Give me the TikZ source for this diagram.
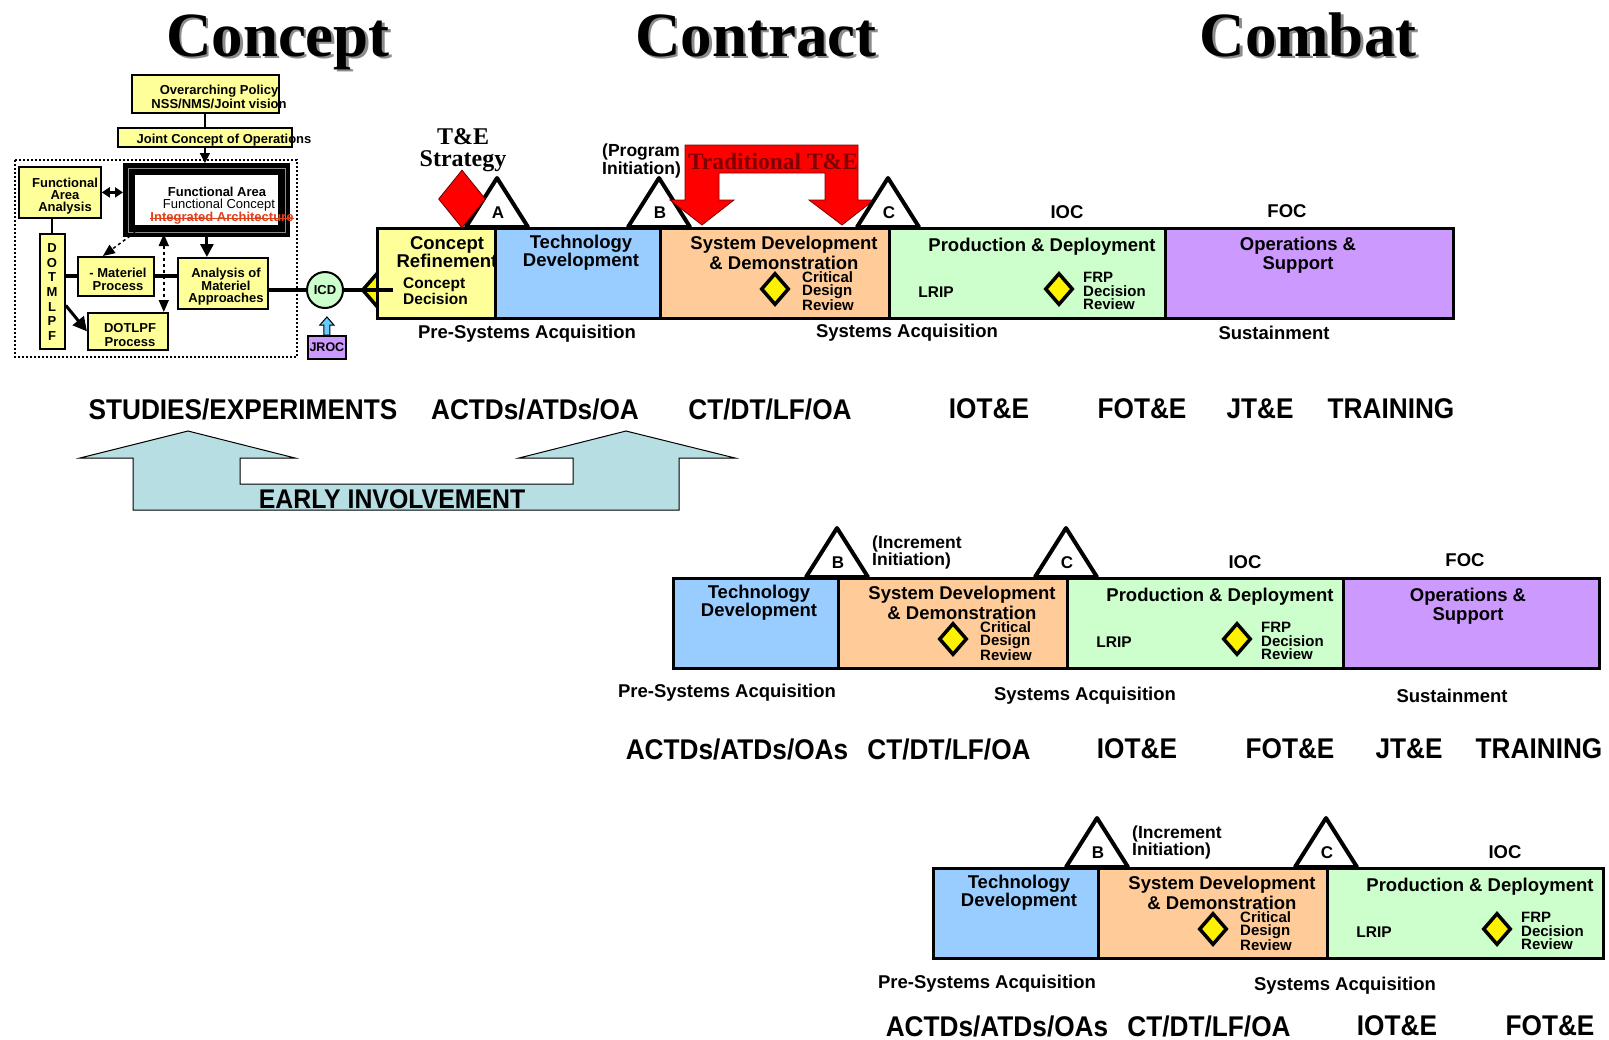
\documentclass[tikz,border=0pt]{standalone}
\usepackage{fontspec}
\setmainfont{Liberation Sans}
\newfontfamily\tnr{Liberation Serif}
\newfontfamily\cond[FakeStretch=0.92]{Liberation Sans}
\usetikzlibrary{arrows.meta,shapes.geometric,calc}
\definecolor{cyel}{HTML}{FFFF99}
\definecolor{cblue}{HTML}{99CCFF}
\definecolor{corange}{HTML}{FFCC99}
\definecolor{cgreen}{HTML}{CCFFCC}
\definecolor{cpurple}{HTML}{CC99FF}
\definecolor{cteal}{HTML}{B7DEE2}
\definecolor{tedark}{HTML}{800000}
\definecolor{iaorange}{HTML}{E0401A}
\definecolor{jrocblue}{HTML}{66CCFF}
\newcommand\fs[2]{\fontsize{#1}{#2}\selectfont}
\tikzset{
  phase/.style={draw, line width=2.5pt, minimum height=90pt, inner sep=0, anchor=north west},
  ptitle/.style={font=\bfseries\fs{18.5}{19.5}, align=center, inner sep=0},
  small/.style={font=\bfseries\fs{15}{13.3}, align=left, inner sep=0, anchor=west},
  lbl/.style={font=\bfseries\fs{18.5}{19}, inner sep=0},
  ms/.style={diamond, draw, line width=3.5pt, fill=yellow, minimum width=28pt, minimum height=32pt, inner sep=0},
  tri/.style={draw, line width=4pt, fill=white, line join=round},
  trilab/.style={font=\bfseries\fs{17}{17}, inner sep=0},
  rowlab/.style={font=\cond\bfseries\fs{28.5}{28}, inner sep=0},
  cbox/.style={draw, line width=1.8pt, fill=cyel, inner sep=0, anchor=north west},
  ctext/.style={font=\bfseries\fs{13}{12.5}, align=center, inner sep=0},
  title/.style={font=\tnr\bfseries\fs{63}{63}, inner sep=0, anchor=base},
  incr/.style={font=\bfseries\fs{17.5}{17}, align=left, inner sep=0, anchor=west},
}
\newcommand\msTri[3]{%
  \draw[tri] ({#2-31},0) -- (#2,-49) -- ({#2+31},0) -- cycle;
  \node[trilab] (#1) at ({#2+1},-14) {#3};}
\newcommand\rowcore{%
  \node[phase, fill=cblue, minimum width=165pt] (td) at (0,0) {};
  \node[phase, fill=corange, minimum width=229pt] (sdd) at (165,0) {};
  \node[phase, fill=cgreen, minimum width=276pt] (pd) at (394,0) {};
  \node[ptitle, font=\bfseries\fs{18.5}{16}] (tdt) at (87,26) {Technology\\Development};
  \node[ptitle] (sddt) at (290,26) {System Development\\\& Demonstration};
  \node[ms] (cdr) at (281,62) {};
  \node[small] (cdrt) at (308,64) {Critical\\Design\\Review};
  \node[ptitle] (pdt) at (548,20) {Production \& Deployment};
  \node[font=\bfseries\fs{15.5}{15.5}, inner sep=0] (lrip) at (442,65) {LRIP};
  \node[ms] (frp) at (565,62) {};
  \node[small] (frpt) at (589,64) {FRP\\Decision\\Review};
  \node[lbl] (ioc) at (573,-15) {IOC};
}
\begin{document}
\begin{tikzpicture}[x=1pt, y=-1pt]
\fill[white] (0,0) rectangle (1609,1039);
\useasboundingbox (0,0) rectangle (1609,1039);

% titles
\node[title, text=black!45] (t1s) at (280.5,58.5) {Concept};
\node[title] (t1) at (278,56) {Concept};
\node[title, text=black!45] (t2s) at (758.5,58.5) {Contract};
\node[title] (t2) at (756,56) {Contract};
\node[title, text=black!45] (t3s) at (1310.5,58.5) {Combat};
\node[title] (t3) at (1308,56) {Combat};

% concept block
\draw[dash pattern=on 2pt off 2pt, line width=2.2pt] (15,160) rectangle (297,357);
\node[cbox, minimum width=147pt, minimum height=38pt] (policy) at (131,74) {};
\node[ctext, font=\bfseries\fs{13}{14}] (policyt) at (219,97) {Overarching Policy\\NSS/NMS/Joint vision};
\node[cbox, minimum width=174pt, minimum height=19pt] (jco) at (117,127) {};
\node[ctext] (jcot) at (224,140) {Joint Concept of Operations};
\node[cbox, minimum width=82pt, minimum height=51pt] (faa) at (18,166) {};
\node[ctext, font=\bfseries\fs{13}{12}] (faat) at (65,196) {Functional\\Area\\Analysis};
\node[fill=black, minimum width=167pt, minimum height=74pt, anchor=north west, inner sep=0] (fa) at (123,163) {};
\draw[black!45, line width=1pt] (128,168) rectangle (285,232);
\fill[white] (135,175) rectangle (278,225);
\node[font=\bfseries\fs{13}{13}, inner sep=0] (fat1) at (217,192) {Functional Area};
\node[font=\fs{13}{13}, inner sep=0] (fat2) at (219,205) {Functional Concept};
\node[font=\bfseries\fs{13}{13}, text=iaorange, inner sep=0] (fat3) at (222,218) {Integrated Architecture};
\draw[iaorange, line width=1pt] (fat3.west) -- (fat3.east);
\node[cbox, minimum width=25pt, minimum height=115pt] (dot) at (39,233) {};
\node[ctext, font=\bfseries\fs{13}{14.7}] (dott) at (52,292) {D\\O\\T\\M\\L\\P\\F};
\node[cbox, minimum width=76pt, minimum height=39pt] (mat) at (77,256) {};
\node[ctext, font=\bfseries\fs{13}{13}] (matt) at (118,279) {- Materiel\\Process};
\node[cbox, minimum width=90pt, minimum height=51pt] (aoma) at (177,257) {};
\node[ctext, font=\bfseries\fs{13}{12.5}] (aomat) at (226,287) {Analysis of\\Materiel\\Approaches};
\node[cbox, minimum width=80pt, minimum height=37pt] (dotlpf) at (87,312) {};
\node[ctext, font=\bfseries\fs{13}{14}] (dotlpft) at (130,335) {DOTLPF\\Process};
\node[circle, draw, line width=2pt, fill=cgreen, minimum size=36pt, inner sep=0, font=\bfseries\fs{13}{13}] (icd) at (325,290) {ICD};
\node[draw, line width=1.8pt, fill=cpurple, minimum width=38pt, minimum height=23pt, inner sep=0, font=\bfseries\fs{12.5}{12.5}, anchor=north west] (jroc) at (307,335) {JROC};

\draw[line width=2pt] (policy.south) -- (jco.south |- policy.south) -- (jco.north);
\draw[line width=1.5pt, -{Triangle[width=10pt,length=10pt]}] (jco.south) -- (jco.south |- fa.north);
\draw[line width=2.5pt, {Triangle[width=10pt,length=8pt]}-{Triangle[width=10pt,length=8pt]}] (faa.east) -- (faa.east -| fa.west);
\draw[line width=2pt] (dot.north |- faa.south) -- (dot.north);
\draw[line width=4pt] (dot.east |- mat.west) -- (mat.west);
\draw[line width=4pt] (mat.east) -- (mat.east -| aoma.west);
\draw[line width=3pt, -{Triangle[width=13pt,length=13pt]}] ($(aoma.north)+(-16,-20)$) -- ($(aoma.north)+(-16,0)$);
\draw[dashed, line width=1.5pt, -{Triangle[width=10pt,length=12pt]}] ($(fa.south west)+(12,-5)$) -- ($(mat.north)+(-13,0)$);
\draw[dashed, line width=1.5pt, {Triangle[width=10pt,length=12pt]}-{Triangle[width=10pt,length=12pt]}] ($(dotlpf.north east)+(-5,-78)$) -- ($(dotlpf.north east)+(-5,0)$);
\draw[line width=3pt, -{Triangle[width=14pt,length=14pt]}] ($(dot.east)+(0,14)$) -- (dotlpf.west);
\draw[line width=4pt] (aoma.east |- icd.west) -- (icd.west);
\draw[fill=jrocblue, line width=1pt, line join=miter] (jroc.north) ++(-3,0) -- ++(0,-10) -- ++(-4,0) -- ++(7,-8) -- ++(7,8) -- ++(-4,0) -- ++(0,10) -- cycle;

% row 1
\begin{scope}[shift={(494,227)}, name prefix=r1-]
  \node[ms] (cd) at (-118,63) {};
  \node[phase, fill=cyel, minimum width=118pt] (cr) at (-118,0) {};
  \rowcore
  \node[phase, fill=cpurple, minimum width=288pt] (os) at (670,0) {};
  \node[ptitle, font=\bfseries\fs{18.5}{15.5}] (crt) at (-47,25.5) {Concept\\Refinement};
  \node[small, font=\bfseries\fs{15.5}{13}] (cdt) at (-91,64) {Concept\\Decision};
  \node[ptitle] (ost) at (804,28) {Operations \&\\Support};
  \node[lbl] (foc) at (793,-16) {FOC};
  \node[lbl] (sus) at (780,106) {Sustainment};
  \node[lbl] (sa) at (413,106) {Systems Acquisition};
  \node[lbl] (psa) at (33,107) {Pre-Systems Acquisition};
  \msTri{ta}{3}{A}
  \node[diamond, fill=red, draw=black!60!red, line width=0.8pt, minimum width=47pt, minimum height=58pt, inner sep=0] (tes) at (-32,-28) {};
  \node[font=\tnr\bfseries\fs{24}{22}, align=center, inner sep=0] (test) at (-31,-77) {T\&E\\Strategy};
  \msTri{tb}{165}{B}
  \node[incr, font=\bfseries\fs{17.5}{16}] (pi) at (108,-66) {(Program\\Initiation)};
  \draw[fill=red, draw=black!50!red, line width=0.8pt] (191,-82) -- (364,-82) -- (364,-27) -- (380,-27) -- (348,-2) -- (315,-27) -- (331,-27) -- (331,-54) -- (225,-54) -- (225,-27) -- (240,-27) -- (208,-2) -- (176,-27) -- (191,-27) -- cycle;
  \node[font=\tnr\bfseries\fs{23.5}{23}, text=tedark, inner sep=0] (tte) at (279,-66) {Traditional T\&E};
  \msTri{tc}{394}{C}
  \coordinate (cdend) at (-101,63);
\end{scope}
\draw[line width=4pt] (icd.east) -- (r1-cdend);

% row 1 labels
\node[rowlab] (l11) at (243,409) {STUDIES/EXPERIMENTS};
\node[rowlab] (l12) at (535,409) {ACTDs/ATDs/OA};
\node[rowlab] (l13) at (770,409) {CT/DT/LF/OA};
\node[rowlab] (l14) at (989,409) {IOT\&E};
\node[rowlab] (l15) at (1142,409) {FOT\&E};
\node[rowlab] (l16) at (1260,409) {JT\&E};
\node[rowlab] (l17) at (1391,409) {TRAINING};

% early involvement
\draw[fill=cteal, line width=1pt] (133,510) -- (133,458) -- (80,458) -- (188,431) -- (295,458) -- (240,458) -- (240,484) -- (573,484) -- (573,458) -- (519,458) -- (626,431) -- (735,458) -- (679,458) -- (679,510) -- cycle;
\node[rowlab, font=\cond\bfseries\fs{27}{27}] (ei) at (392,499) {EARLY INVOLVEMENT};

% row 2
\begin{scope}[shift={(672,577)}, name prefix=r2-]
  \rowcore
  \node[phase, fill=cpurple, minimum width=256pt] (os) at (670,0) {};
  \node[ptitle] (ost) at (796,29) {Operations \&\\Support};
  \node[lbl] (foc) at (793,-17) {FOC};
  \node[lbl] (sus) at (780,119) {Sustainment};
  \node[lbl] (sa) at (413,119) {Systems Acquisition};
  \node[lbl] (psa) at (55,116) {Pre-Systems Acquisition};
  \msTri{tb}{165}{B}
  \msTri{tc}{394}{C}
  \node[incr] (ii) at (200,-25) {(Increment\\Initiation)};
\end{scope}
\node[rowlab] (l21) at (737,749) {ACTDs/ATDs/OAs};
\node[rowlab] (l22) at (949,749) {CT/DT/LF/OA};
\node[rowlab] (l23) at (1137,749) {IOT\&E};
\node[rowlab] (l24) at (1290,749) {FOT\&E};
\node[rowlab] (l25) at (1409,749) {JT\&E};
\node[rowlab] (l26) at (1539,749) {TRAINING};

% row 3
\begin{scope}[shift={(932,867)}, name prefix=r3-]
  \rowcore
  \node[lbl] (sa) at (413,119) {Systems Acquisition};
  \node[lbl] (psa) at (55,117) {Pre-Systems Acquisition};
  \msTri{tb}{165}{B}
  \msTri{tc}{394}{C}
  \node[incr] (ii) at (200,-25) {(Increment\\Initiation)};
\end{scope}
\node[rowlab] (l31) at (997,1026) {ACTDs/ATDs/OAs};
\node[rowlab] (l32) at (1209,1026) {CT/DT/LF/OA};
\node[rowlab] (l33) at (1397,1026) {IOT\&E};
\node[rowlab] (l34) at (1550,1026) {FOT\&E};
\end{tikzpicture}
\end{document}
